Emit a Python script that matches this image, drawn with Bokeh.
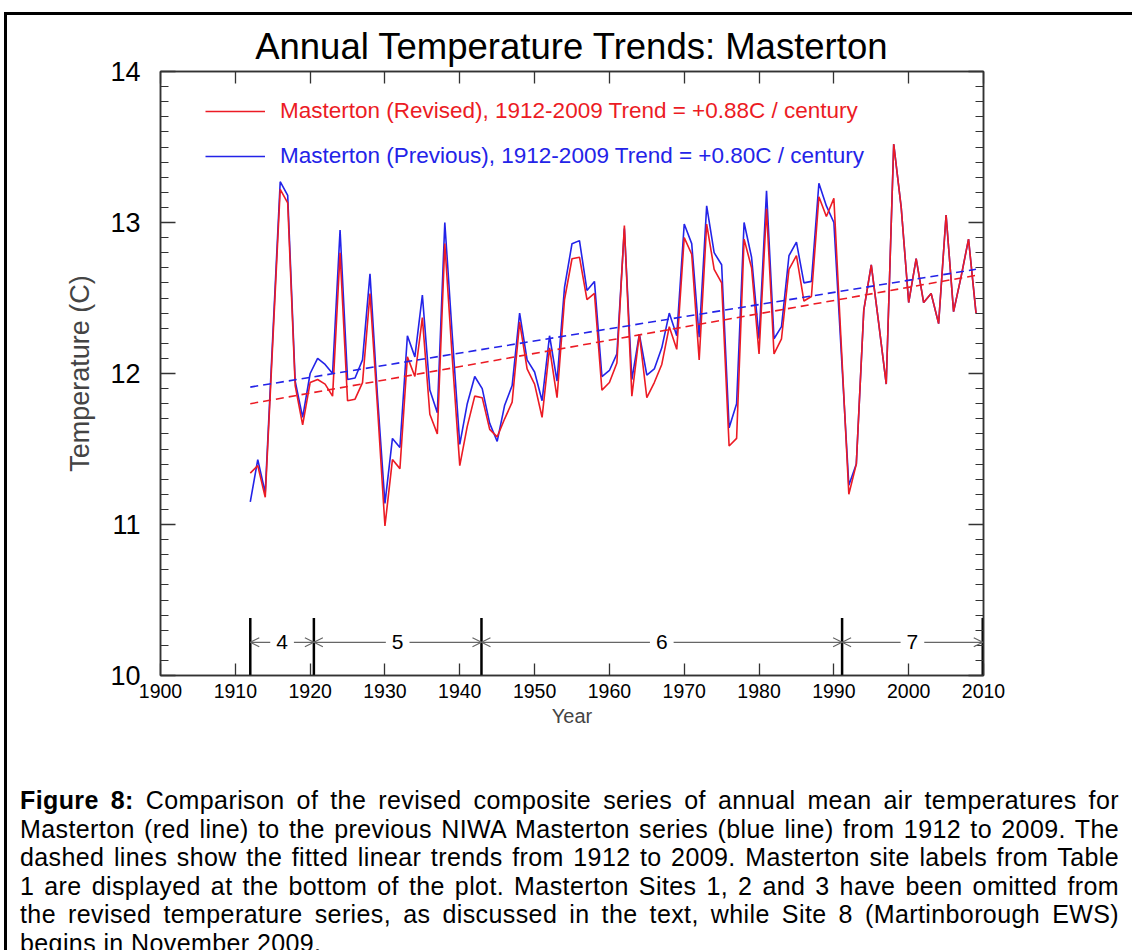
from bokeh.plotting import figure
from bokeh.models import (Range1d, FixedTicker, LinearAxis, Label, Arrow, OpenHead,
                          Div, Legend, LegendItem, CustomJSTickFormatter)
from bokeh.layouts import column
from bokeh.embed import file_html
from bokeh.resources import INLINE

# ---------------- data ----------------
years = list(range(1912, 2010))
revised = [11.34, 11.39, 11.18, 12.20, 13.22, 13.13, 11.92, 11.66, 11.94, 11.96,
           11.93, 11.85, 12.80, 11.82, 11.83, 11.94, 12.53, 11.78, 10.99, 11.43,
           11.37, 12.11, 11.98, 12.37, 11.73, 11.60, 12.86, 12.10, 11.39, 11.65,
           11.85, 11.84, 11.63, 11.58, 11.70, 11.81, 12.34, 12.03, 11.93, 11.71,
           12.17, 11.84, 12.49, 12.76, 12.77, 12.49, 12.53, 11.89, 11.94, 12.07,
           12.98, 11.85, 12.26, 11.84, 11.94, 12.06, 12.31, 12.16, 12.90, 12.79,
           12.09, 12.99, 12.69, 12.60, 11.52, 11.57, 12.89, 12.70, 12.13, 13.09,
           12.13, 12.23, 12.69, 12.78, 12.48, 12.51, 13.17, 13.04, 13.16, 12.18,
           11.20, 11.40, 12.42, 12.72, 12.33, 11.93, 13.52, 13.10, 12.47, 12.76,
           12.47, 12.53, 12.33, 13.05, 12.41, 12.64, 12.89, 12.40]
previous = [11.15, 11.43, 11.21, 12.24, 13.27, 13.18, 11.95, 11.71, 12.00, 12.10,
            12.06, 12.00, 12.95, 11.96, 11.97, 12.09, 12.66, 11.85, 11.14, 11.57,
            11.51, 12.25, 12.11, 12.52, 11.89, 11.74, 13.00, 12.25, 11.53, 11.80,
            11.98, 11.90, 11.67, 11.55, 11.79, 11.92, 12.40, 12.09, 12.01, 11.82,
            12.25, 11.95, 12.57, 12.86, 12.88, 12.55, 12.61, 11.98, 12.02, 12.13,
            12.96, 11.96, 12.26, 11.99, 12.03, 12.17, 12.40, 12.25, 12.99, 12.86,
            12.24, 13.11, 12.80, 12.72, 11.64, 11.80, 13.00, 12.77, 12.23, 13.21,
            12.23, 12.31, 12.78, 12.87, 12.60, 12.61, 13.26, 13.11, 13.00, 12.13,
            11.26, 11.40, 12.42, 12.72, 12.33, 11.93, 13.52, 13.10, 12.47, 12.76,
            12.47, 12.53, 12.33, 13.05, 12.41, 12.64, 12.89, 12.40]
trend_years = [1912, 2009]
revised_trend = [11.80, 12.65]
previous_trend = [11.91, 12.69]
site_bounds = [1912.0, 1920.5, 1942.9, 1991.1, 2009.9]
site_labels = ["4", "5", "6", "7"]
x_ticks = [1900, 1910, 1920, 1930, 1940, 1950, 1960, 1970, 1980, 1990, 2000, 2010]
y_ticks = [10, 11, 12, 13, 14]
revised_label = "Masterton (Revised), 1912-2009 Trend = +0.88C / century"
previous_label = "Masterton (Previous), 1912-2009 Trend = +0.80C / century"
caption_lines = [
    "<b>Figure 8:</b> Comparison of the revised composite series of annual mean air temperatures for",
    "Masterton (red line) to the previous NIWA Masterton series (blue line) from 1912 to 2009. The",
    "dashed lines show the fitted linear trends from 1912 to 2009. Masterton site labels from Table",
    "1 are displayed at the bottom of the plot. Masterton Sites 1, 2 and 3 have been omitted from",
    "the revised temperature series, as discussed in the text, while Site 8 (Martinborough EWS)",
    "begins in November 2009.",
]

# ---------------- style ----------------
FONT = "Liberation Sans"
RED = "#ec1b24"
BLUE = "#2323e8"
AX = "#333333"
GRAY = "#666666"

p = figure(width=1125, height=745, x_range=Range1d(1900, 2010), y_range=Range1d(10, 14),
           output_backend="svg", toolbar_location=None,
           min_border_left=153, min_border_right=149, min_border_top=56, min_border_bottom=85)
p.xgrid.visible = False
p.ygrid.visible = False
p.outline_line_color = AX
p.outline_line_width = 1.5
p.background_fill_color = "white"
p.border_fill_color = "white"

p.title.text = "Annual Temperature Trends: Masterton"
p.title.align = "center"
p.title.text_font = FONT
p.title.text_font_size = "36.5px"
p.title.text_font_style = "normal"
p.title.text_color = "black"

xt = FixedTicker(ticks=x_ticks, minor_ticks=[])
yt = FixedTicker(ticks=y_ticks, minor_ticks=[10 + i / 10 for i in range(41)])
blank = CustomJSTickFormatter(code="return ''")

def style_axis(ax, ticker, major_len, show_labels):
    ax.ticker = ticker
    ax.axis_line_color = AX
    ax.axis_line_width = 1.5
    ax.major_tick_line_color = AX
    ax.minor_tick_line_color = AX
    ax.major_tick_line_width = 1.3
    ax.minor_tick_line_width = 1.0
    ax.major_tick_in = major_len
    ax.major_tick_out = 0
    ax.minor_tick_in = 8
    ax.minor_tick_out = 0
    ax.major_label_text_font = FONT
    ax.major_label_text_color = "black"
    if not show_labels:
        ax.formatter = blank
        ax.major_label_standoff = 0

xa = p.xaxis[0]
style_axis(xa, xt, 12, True)
xa.major_label_text_font_size = "19.5px"
xa.major_label_standoff = 8
xa.axis_label = "Year"
xa.axis_label_text_font = FONT
xa.axis_label_text_font_size = "20px"
xa.axis_label_text_font_style = "normal"
xa.axis_label_standoff = 4

ya = p.yaxis[0]
style_axis(ya, yt, 15, True)
ya.major_label_text_font_size = "27px"
ya.major_label_standoff = 20
ya.axis_label = "Temperature (C)"
ya.axis_label_text_font = FONT
ya.axis_label_text_font_size = "27px"
ya.axis_label_text_font_style = "normal"
ya.axis_label_standoff = 12

top_ax = LinearAxis()
style_axis(top_ax, xt, 12, False)
p.add_layout(top_ax, "above")
right_ax = LinearAxis()
style_axis(right_ax, yt, 15, False)
p.add_layout(right_ax, "right")

# series
r_prev = p.line(years, previous, line_color=BLUE, line_width=1.6)
r_rev = p.line(years, revised, line_color=RED, line_width=1.6)
p.line(trend_years, previous_trend, line_color=BLUE, line_width=1.6, line_dash="8 5")
p.line(trend_years, revised_trend, line_color=RED, line_width=1.6, line_dash="8 5")

# legends
def make_legend(renderer, label, color, loc):
    leg = Legend(items=[LegendItem(label=label, renderers=[renderer])], location=loc,
                 background_fill_alpha=0, border_line_color=None, padding=0, margin=0,
                 glyph_width=60, glyph_height=20, label_height=20, label_standoff=15,
                 label_text_font=FONT, label_text_font_size="22.5px", label_text_color=color)
    p.add_layout(leg, "center")

make_legend(r_rev, revised_label, RED, (45, 551))
make_legend(r_prev, previous_label, BLUE, (45, 506))

# site markers
p.segment(x0=site_bounds, y0=[10] * len(site_bounds), x1=site_bounds,
          y1=[10.38] * len(site_bounds), line_color="black", line_width=2.5)
for i, lab in enumerate(site_labels):
    a, b = site_bounds[i], site_bounds[i + 1]
    p.add_layout(Arrow(x_start=a, x_end=b, y_start=10.22, y_end=10.22,
                       line_color=GRAY, line_width=1.2,
                       start=OpenHead(size=9, line_color=GRAY, line_width=1.2),
                       end=OpenHead(size=9, line_color=GRAY, line_width=1.2)))
    p.add_layout(Label(x=(a + b) / 2, y=10.22, text=lab, text_align="center",
                       text_baseline="middle", text_font=FONT, text_font_size="21px",
                       text_color="black", background_fill_color="white", padding=6))

# caption
rows = []
for i, line in enumerate(caption_lines):
    last = i == len(caption_lines) - 1
    al = "left" if last else "justify"
    rows.append(f'<div style="white-space:nowrap;text-align:{al};text-align-last:{al};">{line}</div>')
html = ('<div style="font-family:\'Liberation Sans\',Arial,sans-serif;font-size:25px;'
        'letter-spacing:0.4px;line-height:28.5px;color:black;padding:21px 0 0 8px;width:1107px;">'
        + "".join(rows) + "</div>")
cap = Div(text=html, width=1125, height=190, styles={"background-color": "white"})

layout = column(p, cap, margin=(12, 0, 0, 4),
                styles={"border-left": "3px solid black", "border-top": "3px solid black",
                        "background-color": "white"})

open("out.html", "w").write(file_html(layout, INLINE))
